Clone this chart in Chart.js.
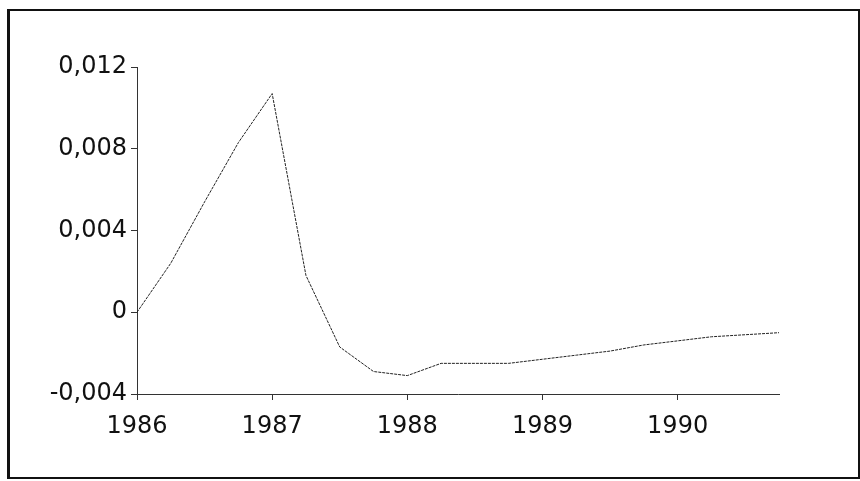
<!DOCTYPE html>
<html>
<head>
<meta charset="utf-8">
<script src="https://cdn.jsdelivr.net/npm/chart.js@4/dist/chart.umd.min.js"></script>
<style>
  html, body { margin: 0; padding: 0; background: #fff; }
  #wrap { position: relative; width: 860px; height: 481px; }
  #frame { position: absolute; left: 7px; top: 9px; width: 848px; height: 466px; border: 2px solid #111; border-left-width: 3px; pointer-events: none; }
</style>
</head>
<body>
<div id="wrap">
  <canvas id="myChart" width="860" height="481"></canvas>
  <div id="frame"></div>
</div>
<script>
// quarterly points, decimal years
const periods = [1986, 1986.25, 1986.5, 1986.75, 1987, 1987.25, 1987.5, 1987.75, 1988,
  1988.25, 1988.5, 1988.75, 1989, 1989.25, 1989.5, 1989.75, 1990, 1990.25, 1990.5, 1990.75]
const values = [0, 0.0024, 0.0054, 0.0083, 0.0107, 0.0018, -0.0017, -0.0029, -0.0031,
  -0.0025, -0.0025, -0.0025, -0.0023, -0.0021, -0.0019, -0.0016, -0.0014, -0.0012, -0.0011, -0.0010]
const yearTicks = [1986, 1987, 1988, 1989, 1990]
const yTicks = [-0.004, 0, 0.004, 0.008, 0.012]

const fmt = v => Math.abs(v) < 1e-9 ? '0' : v.toFixed(3).replace('.', ',')

const ctx = document.getElementById('myChart')
new Chart(ctx, {
  type: 'line',
  data: {
    datasets: [{
      label: '',
      data: periods.map((p, i) => ({ x: p, y: values[i] })),
      borderColor: '#222',
      borderWidth: 1,
      borderDash: [3, 1],
      pointRadius: 0,
      tension: 0,
    }]
  },
  options: {
    responsive: false,
    animation: false,
    layout: { padding: { left: 0, top: 67, right: 81, bottom: 37 } },
    plugins: { legend: { display: false }, tooltip: { enabled: false } },
    scales: {
      x: {
        type: 'linear',
        min: 1986,
        max: 1990.75,
        afterBuildTicks: s => { s.ticks = yearTicks.map(v => ({ value: v })) },
        afterFit: s => { s.height = 50 },
        grid: { drawOnChartArea: false, drawTicks: true, tickLength: 6, color: '#333' },
        border: { display: true, color: '#333', dash: [2, 2] },
        ticks: {
          callback: v => String(v),
          color: '#111',
          padding: 12,
          maxRotation: 0,
          font: { family: 'DejaVu Sans', size: 24 }
        }
      },
      y: {
        min: -0.004,
        max: 0.012,
        afterBuildTicks: s => { s.ticks = yTicks.map(v => ({ value: v })) },
        afterFit: s => { s.width = 137 },
        grid: { drawOnChartArea: false, drawTicks: true, tickLength: 6, color: '#333' },
        border: { display: true, color: '#333', dash: [2, 2] },
        ticks: {
          callback: v => fmt(v),
          color: '#111',
          padding: 4,
          font: { family: 'DejaVu Sans', size: 24 }
        }
      }
    }
  }
})
</script>
</body>
</html>
